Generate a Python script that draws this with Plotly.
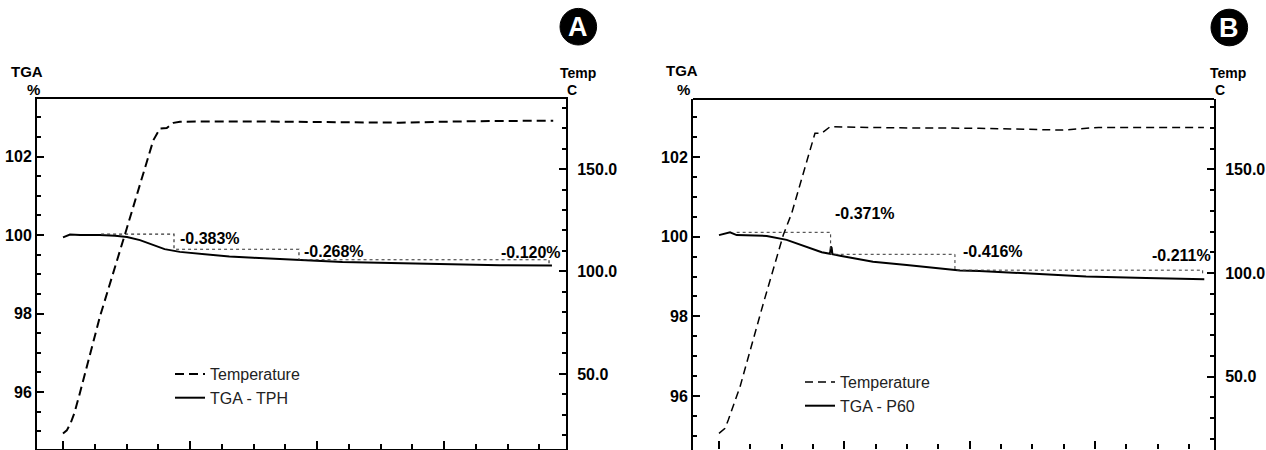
import plotly.graph_objects as go

# ---------------- data (time in min) ----------------
# Panel A
tA_temp = [0, 0.3, 0.6, 0.9, 1.3, 2.91, 5.02, 7.11, 7.64, 8.17, 8.7, 9.21, 14.7, 18.7, 26.5, 32.0, 38.6]
tempA = [21, 22.5, 26, 31, 40, 78, 121, 164, 169.8, 170, 172.5, 173.1, 173.2, 173.0, 172.6, 173.3, 173.6]

tA = [0, 0.3, 0.55, 1.34, 2.9, 4.1, 5.04, 6.06, 7.0, 8.0, 9.2, 10.4, 11.6, 13.1, 15.0, 17.1, 18.7,
      22.0, 26.5, 30.7, 34.4, 38.5]
tgaA = [99.94, 99.98, 100.01, 100.0, 100.0, 99.98, 99.95, 99.87, 99.76, 99.64, 99.57, 99.53, 99.49,
        99.45, 99.42, 99.38, 99.36, 99.31, 99.28, 99.25, 99.23, 99.22]

stepA_t = [3.0, 8.74, 18.58, 38.27]
stepA_lv = [100.02, 99.637, 99.369, 99.249]
stepA_lbl = ["-0.383%", "-0.268%", "-0.120%"]
stepA_lbl_pos = [(9.06, 99.90, "left"), (18.82, 99.575, "left"), (39.35, 99.56, "right")]

# Panel B
tB_temp = [0, 0.48, 0.74, 1.68, 3.54, 5.13, 5.8, 7.26, 7.66, 8.2, 8.86, 14.0, 20.75, 27.4, 30.3, 38.7]
tempB = [22.7, 25.1, 29.1, 45.2, 85.4, 118.3, 128.8, 159.3, 167.4, 167.4, 170.5, 170.0, 169.8, 168.9,
         170.2, 170.2]

tB = [0, 0.88, 1.41, 3.81, 5.4, 7.26, 8.2, 8.86, 8.93, 8.99, 9.05, 9.66, 12.29, 14.98, 19.23, 20.77,
      26.1, 29.3, 34.08, 38.73]
tgaB = [100.04, 100.11, 100.04, 100.02, 99.92, 99.71, 99.61, 99.57, 99.75, 99.72, 99.56, 99.52, 99.37,
        99.29, 99.15, 99.14, 99.06, 99.0, 98.96, 98.93]

stepB_t = [1.41, 8.91, 18.83, 38.6]
stepB_lv = [100.11, 99.558, 99.16, 99.04]
stepB_lbl = ["-0.371%", "-0.416%", "-0.211%"]
stepB_lbl_pos = [(9.1, 100.595, "left"), (19.31, 99.623, "left"), (34.4, 99.54, "left")]

# tick labels
tga_ticks = [96, 98, 100, 102]
tga_ticktext = ["96", "98", "100", "102"]
temp_ticks = [50, 100, 150]
temp_ticktext = ["50.0", "100.0", "150.0"]


def staircase(ts, lv):
    xs, ys = [ts[0]], [lv[0]]
    for i in range(1, len(ts)):
        xs += [ts[i], ts[i]]
        ys += [lv[i - 1], lv[i]]
    return xs, ys


FONT = "Arial, Liberation Sans, sans-serif"
fig = go.Figure()

# Panel A traces
fig.add_trace(go.Scatter(x=tA_temp, y=tempA, xaxis="x", yaxis="y2", mode="lines", name="Temperature",
                         line=dict(color="black", width=2, dash="9px,5px"), legend="legend"))
fig.add_trace(go.Scatter(x=tA, y=tgaA, xaxis="x", yaxis="y", mode="lines", name="TGA - TPH",
                         line=dict(color="black", width=2), legend="legend"))
sx, sy = staircase(stepA_t, stepA_lv)
fig.add_trace(go.Scatter(x=sx, y=sy, xaxis="x", yaxis="y", mode="lines", showlegend=False,
                         line=dict(color="#333", width=1.2, dash="dot")))

# Panel B traces
fig.add_trace(go.Scatter(x=tB_temp, y=tempB, xaxis="x2", yaxis="y4", mode="lines", name="Temperature",
                         line=dict(color="black", width=1.5, dash="8px,5px"), legend="legend2"))
fig.add_trace(go.Scatter(x=tB, y=tgaB, xaxis="x2", yaxis="y3", mode="lines", name="TGA - P60",
                         line=dict(color="black", width=2), legend="legend2"))
sx, sy = staircase(stepB_t, stepB_lv)
fig.add_trace(go.Scatter(x=sx, y=sy, xaxis="x2", yaxis="y3", mode="lines", showlegend=False,
                         line=dict(color="#333", width=1, dash="dot")))

W, H = 1266, 450
tickfont = dict(family=FONT, size=16, color="black")


def bold(lst):
    return ["<b>%s</b>" % s for s in lst]


def xax(domain, rng, showline):
    return dict(domain=domain, range=rng, showline=showline, mirror=showline, linecolor="black",
                linewidth=2, ticks="inside", ticklen=8, tickwidth=2, tickcolor="black", dtick=10, tick0=0,
                minor=dict(ticks="inside", ticklen=5, tickwidth=1.5, tickcolor="black", dtick=2.5),
                showticklabels=False, showgrid=False, zeroline=False)


def yl(domain, rng, anchor):
    return dict(domain=domain, range=rng, anchor=anchor, showline=True, linecolor="black", linewidth=2,
                ticks="inside", ticklen=7, tickwidth=2, tickcolor="black",
                tickmode="array", tickvals=tga_ticks, ticktext=bold(tga_ticktext),
                minor=dict(ticks="inside", ticklen=4, tickwidth=1.5, tickcolor="black",
                           tickmode="linear", tick0=0, dtick=0.5),
                tickfont=tickfont, showgrid=False, zeroline=False, ticklabelstandoff=0)


def yr(overlay, rng, anchor):
    return dict(overlaying=overlay, side="right", range=rng, anchor=anchor, showline=True,
                linecolor="black", linewidth=2, ticks="inside", ticklen=7, tickwidth=2,
                tickcolor="black", tickmode="array", tickvals=temp_ticks, ticktext=bold(temp_ticktext),
                minor=dict(ticks="inside", ticklen=4, tickwidth=1.5, tickcolor="black",
                           tickmode="linear", tick0=0, dtick=10),
                tickfont=tickfont, showgrid=False, zeroline=False, ticklabelstandoff=6)


xA = [37 / W, 566 / W]
xB = [693 / W, 1214 / W]
yA = [1 / H, 351 / H]
yB = [0, 351 / H]

fig.update_layout(
    width=W, height=H, margin=dict(l=0, r=0, t=0, b=0),
    paper_bgcolor="white", plot_bgcolor="rgba(0,0,0,0)",
    font=dict(family=FONT, color="black"),
    xaxis=xax(xA, [-2.047, 39.606], True),
    yaxis=yl(yA, [94.548, 103.465], "x"),
    yaxis2=yr("y", [13.4, 184.15], "x"),
    xaxis2=xax(xB, [-2.075, 39.505], False),
    yaxis3=yl(yB, [94.645, 103.457], "x2"),
    yaxis4=yr("y3", [14.66, 183.9], "x2"),
    legend=dict(x=170 / W, y=(H - 357) / H, xanchor="left", yanchor="top", bgcolor="rgba(0,0,0,0)",
                font=dict(family=FONT, size=16, color="#222"), tracegroupgap=0),
    legend2=dict(x=800 / W, y=(H - 365) / H, xanchor="left", yanchor="top", bgcolor="rgba(0,0,0,0)",
                 font=dict(family=FONT, size=16, color="#222"), tracegroupgap=0),
    showlegend=True,
)

# top border for panel B (its bottom axis line is cut off in the picture)
fig.add_shape(type="line", xref="paper", yref="paper", x0=xB[0], x1=xB[1], y0=yB[1], y1=yB[1],
              line=dict(color="black", width=2))

ann = []
for txt, (ax_, ay_, anc) in zip(stepA_lbl, stepA_lbl_pos):
    ann.append(dict(x=ax_, y=ay_, xref="x", yref="y", text="<b>%s</b>" % txt, showarrow=False, xanchor=anc,
                    yanchor="middle", font=dict(family=FONT, size=16, color="black")))
for txt, (ax_, ay_, anc) in zip(stepB_lbl, stepB_lbl_pos):
    ann.append(dict(x=ax_, y=ay_, xref="x2", yref="y3", text="<b>%s</b>" % txt, showarrow=False, xanchor=anc,
                    yanchor="middle", font=dict(family=FONT, size=16, color="black")))


# axis titles
def title(x, y, txt, size=15):
    return dict(x=x / W, y=(H - y) / H, xref="paper", yref="paper", text="<b>%s</b>" % txt, showarrow=False,
                xanchor="center", yanchor="middle", font=dict(family=FONT, size=size, color="black"))


ann += [title(26.7, 71, "TGA"), title(33, 90, "%"), title(578.3, 73, "Temp", 14), title(571.7, 90, "C", 14),
        title(681.7, 70, "TGA"), title(683.3, 90, "%"), title(1227.7, 73, "Temp", 14), title(1220, 90, "C", 14)]

# panel badges
for cx, cy, r, letter in [(578.3, 26.7, 18.3, "A"), (1229.3, 27.5, 18.3, "B")]:
    fig.add_shape(type="circle", xref="paper", yref="paper", x0=(cx - r) / W, x1=(cx + r) / W,
                  y0=(H - cy - r) / H, y1=(H - cy + r) / H, fillcolor="black", line=dict(color="black", width=1))
    ann.append(dict(x=cx / W, y=(H - cy) / H, xref="paper", yref="paper", text="<b>%s</b>" % letter,
                    showarrow=False, xanchor="center", yanchor="middle",
                    font=dict(family=FONT, size=27, color="white")))

fig.update_layout(annotations=ann)
fig.write_html("out.html", config={"displayModeBar": False},
               post_script="document.body.style.margin='0px';document.body.style.overflow='hidden';")
